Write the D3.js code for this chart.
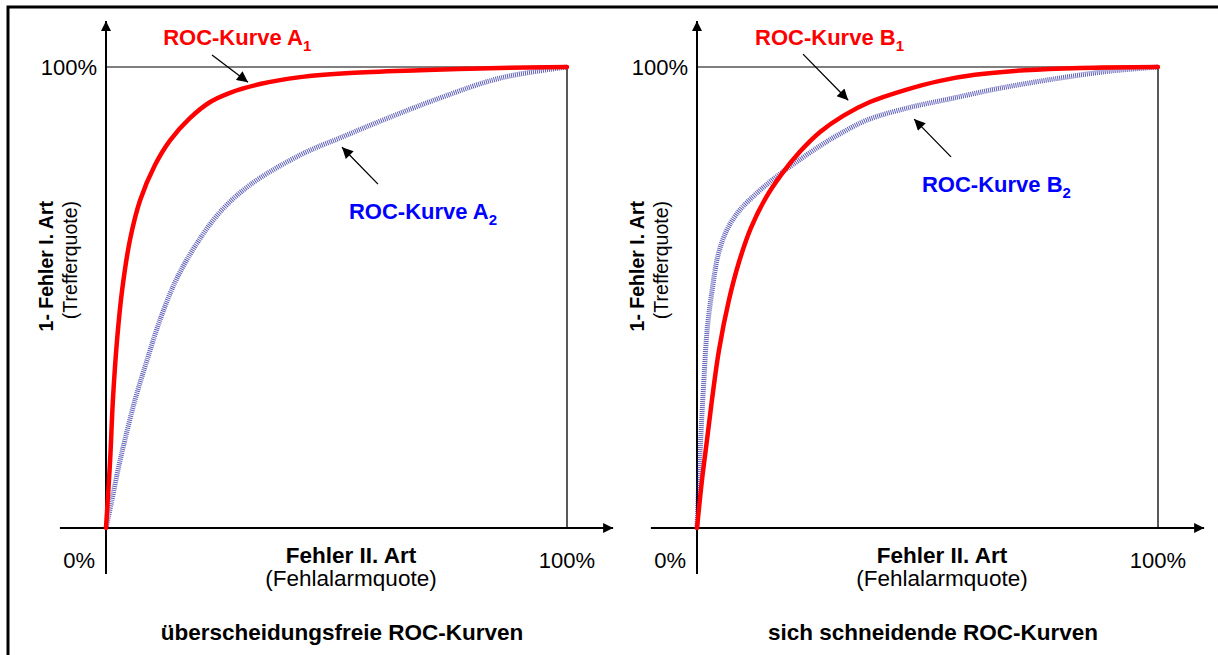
<!DOCTYPE html>
<html><head><meta charset="utf-8">
<script src="https://cdn.jsdelivr.net/npm/d3@7"></script>
<style>
html,body{margin:0;padding:0;background:#fff;overflow:hidden}
text{font-family:"Liberation Sans",Arial,sans-serif;fill:#000}
</style></head>
<body>
<script>
// ---- data (x = Fehlalarmquote, y = Trefferquote, fractions 0..1) ----
const curveA1 = [[0,0],[0.009,0.148],[0.015,0.278],[0.024,0.408],[0.035,0.516],[0.052,0.625],[0.074,0.711],[0.106,0.787],[0.139,0.841],[0.182,0.889],[0.226,0.924],[0.269,0.944],[0.334,0.963],[0.421,0.978],[0.529,0.987],[0.681,0.993],[0.855,0.998],[1,1]];
const curveA2 = [[0,0],[0.013,0.061],[0.026,0.126],[0.041,0.191],[0.063,0.278],[0.089,0.364],[0.117,0.451],[0.152,0.538],[0.195,0.614],[0.247,0.685],[0.312,0.744],[0.421,0.809],[0.512,0.848],[0.601,0.885],[0.725,0.933],[0.855,0.976],[1,1]];
const curveB1 = [[0,0],[0.0108,0.104],[0.0217,0.191],[0.0325,0.278],[0.0477,0.386],[0.0694,0.495],[0.0911,0.577],[0.117,0.651],[0.148,0.714],[0.184,0.768],[0.223,0.816],[0.267,0.859],[0.317,0.894],[0.375,0.924],[0.451,0.950],[0.527,0.970],[0.603,0.983],[0.711,0.993],[0.831,0.998],[1,1]];
const curveB2 = [[0,0],[0.004,0.104],[0.009,0.213],[0.015,0.321],[0.022,0.430],[0.033,0.517],[0.046,0.593],[0.065,0.647],[0.093,0.690],[0.126,0.723],[0.163,0.755],[0.213,0.792],[0.267,0.829],[0.310,0.855],[0.369,0.885],[0.456,0.911],[0.549,0.931],[0.657,0.954],[0.787,0.976],[0.895,0.991],[1,1]];

const tickLabels = ["0%","100%"];
const yTitle = "1- Fehler I. Art";
const ySub = "(Trefferquote)";
const xTitle = "Fehler II. Art";
const xSub = "(Fehlalarmquote)";
const panelTitles = ["überscheidungsfreie ROC-Kurven","sich schneidende ROC-Kurven"];
const curveNames = [["A","1"],["A","2"],["B","1"],["B","2"]];
// label anchor [x,y] and arrow [from, to] in data units
const labelPos = [[0.124,1.048],[0.527,0.670],[0.126,1.048],[0.488,0.729]];
const arrowPos = [[[0.230,1.026],[0.308,0.967]],[[0.590,0.746],[0.512,0.826]],[[0.230,1.028],[0.328,0.928]],[[0.551,0.805],[0.471,0.887]]];

const W = 1218, H = 655;
const svg = d3.select("body").append("svg").attr("width",W).attr("height",H);

const defs = svg.append("defs");
defs.append("marker").attr("id","ah").attr("viewBox","0 0 10 10").attr("refX",10).attr("refY",5)
  .attr("markerWidth",13).attr("markerHeight",11).attr("markerUnits","userSpaceOnUse").attr("orient","auto")
  .append("path").attr("d","M0,0 L10,5 L0,10 Z").attr("fill","#000");
defs.append("marker").attr("id","axh").attr("viewBox","0 0 10 10").attr("refX",10).attr("refY",5)
  .attr("markerWidth",11).attr("markerHeight",10).attr("markerUnits","userSpaceOnUse").attr("orient","auto")
  .append("path").attr("d","M0,0 L10,5 L0,10 Z").attr("fill","#000");

// outer frame
svg.append("rect").attr("x",8).attr("y",7).attr("width",W+20).attr("height",H+20)
  .attr("fill","none").attr("stroke","#000").attr("stroke-width",3);

const panels = [
  {x0:106, curves:[curveA1,curveA2], names:[0,1], title:panelTitles[0]},
  {x0:697, curves:[curveB1,curveB2], names:[2,3], title:panelTitles[1]}
];
const size = 461, yBase = 528;

panels.forEach(p => {
  const x = d3.scaleLinear().domain([0,1]).range([p.x0, p.x0+size]);
  const y = d3.scaleLinear().domain([0,1]).range([yBase, yBase-size]);
  const g = svg.append("g");

  // 100% top line and right line
  g.append("line").attr("x1",x(0)).attr("x2",x(1)).attr("y1",y(1)).attr("y2",y(1)).attr("stroke","#000").attr("stroke-width",1.2);
  g.append("line").attr("x1",x(1)).attr("x2",x(1)).attr("y1",y(1)).attr("y2",y(0)).attr("stroke","#222").attr("stroke-width",1.5);
  // axes
  g.append("line").attr("x1",x(-0.1)).attr("x2",x(1.1)).attr("y1",y(0)).attr("y2",y(0)).attr("stroke","#000").attr("stroke-width",2).attr("marker-end","url(#axh)");
  g.append("line").attr("x1",x(0)).attr("x2",x(0)).attr("y1",y(-0.1)).attr("y2",y(1.1)).attr("stroke","#000").attr("stroke-width",2).attr("marker-end","url(#axh)");

  // tick labels
  g.append("text").attr("x",x(0)-9).attr("y",y(1)+8).attr("text-anchor","end").attr("font-size",22).text(tickLabels[1]);
  g.append("text").attr("x",x(0)-11).attr("y",y(0)+40).attr("text-anchor","end").attr("font-size",22).text(tickLabels[0]);
  g.append("text").attr("x",x(1)).attr("y",y(0)+40).attr("text-anchor","middle").attr("font-size",22).text(tickLabels[1]);

  // axis titles
  const cx = x(0)+245;
  g.append("text").attr("x",cx).attr("y",y(0)+35).attr("text-anchor","middle").attr("font-size",22.5).attr("font-weight","bold").text(xTitle);
  g.append("text").attr("x",cx).attr("y",y(0)+58).attr("text-anchor","middle").attr("font-size",22.5).text(xSub);
  g.append("text").attr("transform",`translate(${x(0)-53},201) rotate(-90)`).attr("text-anchor","end").attr("font-size",19.5).attr("font-weight","bold").text(yTitle);
  g.append("text").attr("transform",`translate(${x(0)-29},201) rotate(-90)`).attr("text-anchor","end").attr("font-size",19.5).text(ySub);

  // panel title
  g.append("text").attr("x",x(0)+236).attr("y",640).attr("text-anchor","middle").attr("font-size",22.5).attr("font-weight","bold").text(p.title);

  // curves
  const line = d3.line().x(d=>x(d[0])).y(d=>y(d[1])).curve(d3.curveCatmullRom.alpha(0.5));
  g.append("path").datum(p.curves[1]).attr("d",line).attr("fill","none")
    .attr("stroke","#1a1a9a").attr("stroke-opacity",0.7).attr("stroke-width",5).attr("stroke-dasharray","1 1");
  g.append("path").datum(p.curves[0]).attr("d",line).attr("fill","none")
    .attr("stroke","#ff0000").attr("stroke-width",4.5).attr("stroke-linecap","round");

  // labels + arrows
  p.names.forEach((ni,k) => {
    const col = k===0 ? "#ff0000" : "#0000ff";
    const lp = labelPos[ni];
    const t = g.append("text").attr("x",x(lp[0])).attr("y",y(lp[1])).attr("font-size",22).attr("font-weight","bold").style("fill",col);
    t.append("tspan").text("ROC-Kurve " + curveNames[ni][0]);
    t.append("tspan").attr("dy",6).attr("font-size",15).text(curveNames[ni][1]);
    const a = arrowPos[ni];
    g.append("line").attr("x1",x(a[0][0])).attr("y1",y(a[0][1])).attr("x2",x(a[1][0])).attr("y2",y(a[1][1]))
      .attr("stroke","#000").attr("stroke-width",1.3).attr("marker-end","url(#ah)");
  });
});
</script>
</body></html>
